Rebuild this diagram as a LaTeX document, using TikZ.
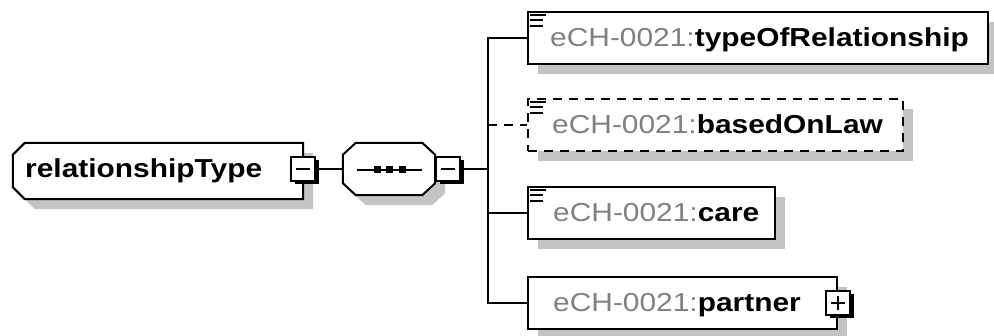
\documentclass[tikz,border=0pt]{standalone}
\usepackage{fontspec}
\setmainfont{Liberation Sans}[FakeStretch=1.15]
\usetikzlibrary{shadows}
\definecolor{shadowgrey}{RGB}{196,196,196}
\definecolor{nsgrey}{RGB}{128,128,128}

% three-bar documentation marker in the top left corner of an element box
\newcommand\docmark[1]{%
  \draw[markbar] ([shift={(3pt,-4pt)}]#1.north west) -- ++(16,0)
                 ([shift={(3pt,-9.5pt)}]#1.north west) -- ++(13,0)
                 ([shift={(3pt,-15pt)}]#1.north west) -- ++(13,0);}

\begin{document}
\begin{tikzpicture}[x=1pt,y=-1pt,
  greyshadow/.style={drop shadow={shadow xshift=10pt,shadow yshift=-10pt,fill=shadowgrey,opacity=1}},
  elembox/.style={draw=black,line width=2pt,fill=white,minimum height=52pt,inner sep=0pt,greyshadow},
  optbox/.style={elembox,dashed,dash pattern=on 9pt off 7pt},
  togglebox/.style={draw=black,fill=white,line width=1.5pt,minimum size=24pt,inner sep=0pt,
    drop shadow={shadow xshift=3.5pt,shadow yshift=-3.5pt,fill=black,opacity=1}},
  conn/.style={draw=black,line width=2pt},
  sign/.style={line width=2pt},
  markbar/.style={line width=2pt},
  lbl/.style={font=\fontsize{26}{30}\selectfont,inner sep=0pt,anchor=base west}]

\useasboundingbox (0,0) rectangle (994,336);

% ---- complex type relationshipType ----
\node[minimum width=290pt,minimum height=56pt,inner sep=0pt] (rel) at (158,171) {};
\draw[line width=2pt,fill=white,greyshadow]
  ([xshift=12pt]rel.north west) -- (rel.north east) -- (rel.south east)
  -- ([xshift=12pt]rel.south west) -- ([yshift=12pt]rel.south west)
  -- ([yshift=-12pt]rel.north west) -- cycle;
\node[lbl] (relt) at (25,178) {\textbf{relationshipType}};
\node[togglebox] (relm) at (303,169) {};
\draw[sign] ([xshift=-7pt]relm.center) -- ([xshift=7pt]relm.center);

% ---- sequence compositor ----
\node[minimum width=92pt,minimum height=52pt,inner sep=0pt] (seq) at (389,169) {};
\draw[line width=2pt,fill=white,greyshadow]
  ([xshift=13pt]seq.north west) -- ([xshift=-13pt]seq.north east)
  -- ([yshift=-12pt]seq.north east) -- ([yshift=12pt]seq.south east)
  -- ([xshift=-13pt]seq.south east) -- ([xshift=13pt]seq.south west)
  -- ([yshift=12pt]seq.south west) -- ([yshift=-12pt]seq.north west) -- cycle;
\draw[line width=1.5pt] ([xshift=-32pt,yshift=-1pt]seq.center) -- ([xshift=33pt,yshift=-1pt]seq.center);
\foreach \dx in {-12,0,13}
  \fill ([shift={(\dx pt-3.5pt,2.5pt)}]seq.center) rectangle ++(7,7);
\node[togglebox] (seqm) at (448,169) {};
\draw[sign] ([xshift=-7pt]seqm.center) -- ([xshift=7pt]seqm.center);

% ---- child elements ----
\node[elembox,minimum width=460pt] (c1) at (758,38) {};
\docmark{c1}
\node[lbl] (c1t) at (550,47) {\textcolor{nsgrey}{eCH-0021:}\textbf{typeOfRelationship}};

\node[optbox,minimum width=375pt] (c2) at (715.5,125) {};
\docmark{c2}
\node[lbl] (c2t) at (552,134) {\textcolor{nsgrey}{eCH-0021:}\textbf{basedOnLaw}};

\node[elembox,minimum width=247pt] (c3) at (651.5,213) {};
\docmark{c3}
\node[lbl] (c3t) at (553,222) {\textcolor{nsgrey}{eCH-0021:}\textbf{care}};

\node[elembox,minimum width=309pt] (c4) at (682.5,303) {};
\node[lbl] (c4t) at (553,312) {\textcolor{nsgrey}{eCH-0021:}\textbf{partner}};
\node[togglebox] (c4p) at (c4.east) {};
\draw[sign] ([xshift=-7pt]c4p.center) -- ([xshift=7pt]c4p.center)
            ([yshift=-7pt]c4p.center) -- ([yshift=7pt]c4p.center);

% ---- connectors ----
\coordinate (tr) at (488,169);
\draw[conn] (relm.east) -- (seq.west);
\draw[conn] (seqm.east) -- (tr);
\draw[conn] (tr) |- (c1.west);
\draw[conn] (tr) |- (c3.west);
\draw[conn] (tr) |- (c4.west);
\draw[conn,dashed,dash pattern=on 9pt off 7pt] (tr |- c2.west) -- (c2.west);
\end{tikzpicture}
\end{document}
